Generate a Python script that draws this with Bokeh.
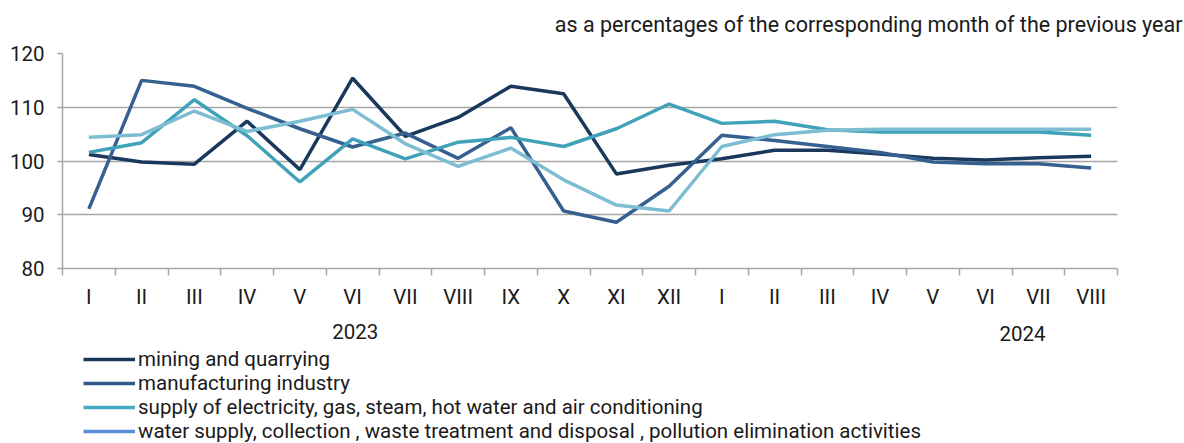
from bokeh.plotting import figure
from bokeh.layouts import column
from bokeh.models import Range1d, FixedTicker, Legend, LegendItem, Label, Title
from bokeh.embed import file_html
from bokeh.resources import INLINE

months = ["I", "II", "III", "IV", "V", "VI", "VII", "VIII", "IX", "X", "XI", "XII",
          "I", "II", "III", "IV", "V", "VI", "VII", "VIII"]
years = ["2023", "2024"]

mining = [101.2, 99.8, 99.4, 107.4, 98.4, 115.4, 104.6, 108.1, 113.9, 112.5, 97.6, 99.2,
          100.4, 102.0, 102.0, 101.3, 100.5, 100.2, 100.6, 100.9]
manufacturing = [91.1, 115.0, 113.9, 109.8, 106.0, 102.6, 105.2, 100.5, 106.2, 90.7, 88.6, 95.3,
                 104.8, 103.8, 102.7, 101.6, 99.8, 99.5, 99.5, 98.7]
electricity = [101.6, 103.4, 111.4, 104.7, 96.1, 104.1, 100.4, 103.5, 104.4, 102.7, 106.0, 110.6,
               107.0, 107.4, 105.8, 105.4, 105.4, 105.4, 105.4, 104.8]
water = [104.4, 104.9, 109.3, 105.5, 107.4, 109.6, 103.2, 99.0, 102.4, 96.5, 91.8, 90.7,
         102.7, 104.9, 105.7, 105.9, 105.9, 105.9, 105.9, 105.9]

names = ["mining and quarrying", "manufacturing industry",
         "supply of electricity, gas, steam, hot water and air conditioning",
         "water supply, collection , waste treatment and disposal , pollution elimination activities"]
colors = ["#19385c", "#35608f", "#3fa2b8", "#7dbdd3"]
legend_colors = ["#19385c", "#2f5a8a", "#47aac5", "#5a8fd8"]
subtitle = "as a percentages of the corresponding month of the previous year"

FONT = "Roboto"
FS = "20.5px"
TXT = "#1a1a1a"
GRAY = "#a6a6a6"
W = 1184
n = len(months)
xs = [i + 0.5 for i in range(n)]

# ---- main chart ----
p = figure(width=W, height=312, output_backend="svg", toolbar_location=None,
           x_range=Range1d(0, n), y_range=Range1d(80, 120),
           min_border_left=62, min_border_right=67, min_border_top=53, min_border_bottom=44)
p.outline_line_color = None
p.add_layout(Title(text=subtitle, align="right", offset=-65, standoff=10,
                   padding=dict(top=0, right=0, bottom=12, left=0),
                   text_font=FONT, text_font_size="21.5px", text_font_style="normal",
                   text_color=TXT), "above")

p.yaxis.ticker = FixedTicker(ticks=[80, 90, 100, 110, 120])
p.yaxis.axis_line_color = GRAY
p.yaxis.axis_line_width = 1.5
p.yaxis.major_tick_line_color = GRAY
p.yaxis.major_tick_line_width = 1.5
p.yaxis.major_tick_out = 5
p.yaxis.major_tick_in = 0
p.yaxis.minor_tick_line_color = None
p.yaxis.major_label_text_font = FONT
p.yaxis.major_label_text_font_size = FS
p.yaxis.major_label_text_color = TXT
p.yaxis.major_label_standoff = 13

p.xaxis.ticker = FixedTicker(ticks=xs, minor_ticks=list(range(n + 1)))
p.xaxis.major_label_overrides = {x: m for x, m in zip(xs, months)}
p.xaxis.axis_line_color = GRAY
p.xaxis.axis_line_width = 1.5
p.xaxis.major_tick_line_color = None
p.xaxis.major_tick_out = 0
p.xaxis.major_tick_in = 0
p.xaxis.minor_tick_line_color = GRAY
p.xaxis.minor_tick_line_width = 1.5
p.xaxis.minor_tick_out = 7
p.xaxis.minor_tick_in = 0
p.xaxis.major_label_text_font = FONT
p.xaxis.major_label_text_font_size = FS
p.xaxis.major_label_text_color = TXT
p.xaxis.major_label_standoff = 9

p.xgrid.grid_line_color = None
p.ygrid.ticker = FixedTicker(ticks=[90, 100, 110, 120])
p.ygrid.grid_line_color = GRAY
p.ygrid.grid_line_width = 1.5

series = [mining, manufacturing, electricity, water]
for s, c in zip(series, colors):
    p.line(xs, s, line_color=c, line_width=3.5)

# ---- bottom strip: years + legend ----
bot = figure(width=W, height=131, output_backend="svg", toolbar_location=None,
             x_range=Range1d(0, n), y_range=Range1d(0, 131),
             x_axis_location=None, y_axis_location=None,
             min_border_left=62, min_border_right=67, min_border_top=0, min_border_bottom=0)
bot.outline_line_color = None
bot.xgrid.visible = False
bot.ygrid.visible = False

bot.add_layout(Label(x=5.55, y=112, text=years[0], text_align="center", text_baseline="middle",
                     text_font=FONT, text_font_size=FS, text_color=TXT))
bot.add_layout(Label(x=18.2, y=110, text=years[1], text_align="center", text_baseline="middle",
                     text_font=FONT, text_font_size=FS, text_color=TXT))

nan = float("nan")
legend_renderers = [bot.line([nan, nan], [nan, nan], line_color=c, line_width=3.5)
                    for c in legend_colors]
legend = Legend(items=[LegendItem(label=nm, renderers=[r]) for nm, r in zip(names, legend_renderers)],
                location=(21, 0), orientation="vertical",
                glyph_width=52, glyph_height=20, label_height=20, label_standoff=3,
                spacing=0, padding=0, margin=0,
                border_line_color=None, background_fill_alpha=0,
                label_text_font=FONT, label_text_font_size=FS, label_text_color=TXT)
bot.add_layout(legend, "center")

layout = column(p, bot, spacing=0)
open("out.html", "w").write(file_html(layout, INLINE))
